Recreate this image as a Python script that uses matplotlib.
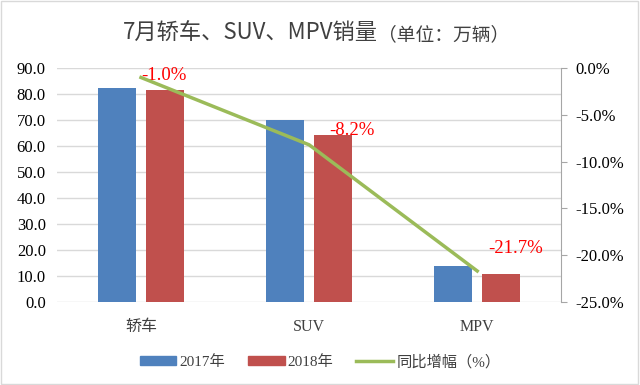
import matplotlib
matplotlib.use('Agg')
import matplotlib.pyplot as plt
from matplotlib.patches import Rectangle, Patch
from matplotlib.lines import Line2D
from matplotlib.ticker import FuncFormatter
import numpy as np

categories = ['轿车', 'SUV', 'MPV']
sales_2017 = [82.5, 70.0, 13.7]
sales_2018 = [81.7, 64.2, 10.7]
growth = [-1.0, -8.2, -21.7]
growth_labels = ['-1.0%', '-8.2%', '-21.7%']

blue = '#4F81BD'
red = '#C0504D'
green = '#9BBB59'
serif_cjk = ['Liberation Serif', 'Noto Sans CJK SC']

fig = plt.figure(figsize=(6.4, 3.85), dpi=100)
ax = fig.add_axes([0.089, 0.216, 0.788, 0.607])
ax2 = ax.twinx()

x = np.arange(len(categories))
w = 0.226
off = 0.143
ax.bar(x - off, sales_2017, w, color=blue, zorder=3)
ax.bar(x + off, sales_2018, w, color=red, zorder=3)
ax.set_xlim(-0.5, 2.5)
ax.set_ylim(0, 90)
ax.set_yticks(np.arange(0, 91, 10))
ax.yaxis.set_major_formatter(FuncFormatter(lambda v, p: '%.1f' % v))
ax.grid(axis='y', color='#D9D9D9', linewidth=1, zorder=0)
ax.set_axisbelow(True)
for s in ['top', 'right', 'left', 'bottom']:
    ax.spines[s].set_visible(False)
ax.tick_params(axis='y', length=0, pad=8, labelsize=12, labelcolor='#000000')
ax.tick_params(axis='x', length=0, pad=12, labelsize=11.5, labelcolor='#404040')
ax.set_xticks(x)
ax.set_xticklabels(categories, family=serif_cjk)
for lab in ax.get_yticklabels():
    lab.set_family('Liberation Serif')

ax2.plot(x, growth, color=green, linewidth=2.5, zorder=4)
ax2.set_ylim(-25, 0)
ax2.set_yticks(np.arange(-25, 1, 5))
ax2.yaxis.set_major_formatter(FuncFormatter(lambda v, p: '%.1f%%' % v))
for s in ['top', 'left', 'bottom']:
    ax2.spines[s].set_visible(False)
ax2.spines['right'].set_color('#A6A6A6')
ax2.tick_params(axis='y', length=4, color='#A6A6A6', pad=6, labelsize=12)
for lab in ax2.get_yticklabels():
    lab.set_family('Liberation Serif')

offsets = [(16.5, 1.5), (31, 10), (28, 16)]
for i, txt in enumerate(growth_labels):
    ax2.annotate(txt, (x[i], growth[i]), xytext=offsets[i], textcoords='offset points',
                 ha='center', va='center', color='#FF0000', fontsize=13.5,
                 family='Liberation Serif')

fig.text(0.59, 0.914, '7月轿车、SUV、MPV销量', ha='right', va='center', fontsize=16,
         color='#404040', family=['Noto Sans CJK SC'])
fig.text(0.59, 0.911, '（单位：万辆）', ha='left', va='center', fontsize=13.5,
         color='#404040', family=['Noto Sans CJK SC'])

handles = [Patch(color=blue), Patch(color=red), Line2D([0], [0], color=green, linewidth=2.5)]
labels = ['2017年', '2018年', '同比增幅（%）']
leg = fig.legend(handles, labels, loc='center', bbox_to_anchor=(0.5, 0.06), ncol=3,
                 frameon=False, handlelength=2.4, handleheight=0.5, handletextpad=0.2,
                 columnspacing=1.5, prop={'family': serif_cjk, 'size': 11})
for t in leg.get_texts():
    t.set_color('#404040')

fig.patches.append(Rectangle((0.002, 0.003), 0.995, 0.994, transform=fig.transFigure,
                             fill=False, edgecolor='#D9D9D9', linewidth=1))

fig.savefig('out.png', dpi=100)
